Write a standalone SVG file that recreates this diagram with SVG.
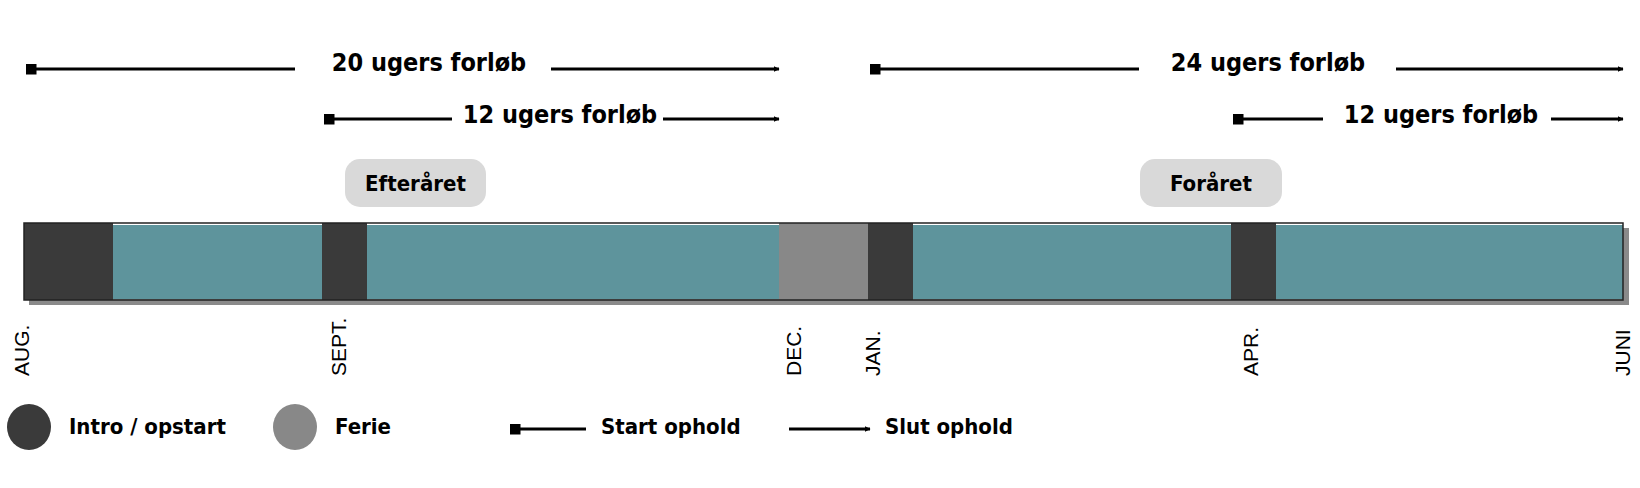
<svg xmlns="http://www.w3.org/2000/svg" width="1640" height="488" viewBox="0 0 1640 488">
<style>
.t{font-family:"Liberation Sans Narrow","DejaVu Sans Condensed","Liberation Sans",sans-serif;font-weight:bold;font-size:25px;fill:#000}
.m{font-family:"Liberation Sans",Arial,sans-serif;font-size:21px;fill:#000}
.ln{stroke:#000;stroke-width:3;fill:none}
.dk{fill:#3a3a3a}.tl{fill:#5e949c}.gr{fill:#888}
</style>
<defs>
<marker id="ah" viewBox="0 0 10 10" refX="9" refY="5" markerWidth="6" markerHeight="8" markerUnits="userSpaceOnUse" orient="auto"><path d="M0,0 L10,5 L0,10 z" fill="#000"/></marker>
<marker id="sq" viewBox="0 0 10 10" refX="5" refY="5" markerWidth="11" markerHeight="11" markerUnits="userSpaceOnUse"><rect width="10" height="10" fill="#000"/></marker>
</defs>
<g id="bar">
<rect x="29" y="228" width="1600" height="77" fill="#8a8a8a"/>
<rect class="dk" x="24" y="223" width="89" height="77"/>
<rect class="tl" x="113" y="225" width="209" height="74"/>
<rect class="dk" x="322" y="223" width="45" height="77"/>
<rect class="tl" x="367" y="225" width="412" height="74"/>
<rect class="gr" x="779" y="223" width="89" height="77"/>
<rect class="dk" x="868" y="223" width="45" height="77"/>
<rect class="tl" x="913" y="225" width="318" height="74"/>
<rect class="dk" x="1231" y="223" width="45" height="77"/>
<rect class="tl" x="1276" y="225" width="347" height="74"/>
<rect x="24" y="223" width="1599" height="77" fill="none" stroke="#222" stroke-width="1.5"/>
</g>
<g id="connectors">
<line class="ln" x1="31" y1="69" x2="295" y2="69" marker-start="url(#sq)"/>
<line class="ln" x1="551" y1="69" x2="779" y2="69" marker-end="url(#ah)"/>
<line class="ln" x1="329" y1="119" x2="452" y2="119" marker-start="url(#sq)"/>
<line class="ln" x1="663" y1="119" x2="779" y2="119" marker-end="url(#ah)"/>
<line class="ln" x1="875" y1="69" x2="1139" y2="69" marker-start="url(#sq)"/>
<line class="ln" x1="1396" y1="69" x2="1623" y2="69" marker-end="url(#ah)"/>
<line class="ln" x1="1238" y1="119" x2="1323" y2="119" marker-start="url(#sq)"/>
<line class="ln" x1="1551" y1="119" x2="1623" y2="119" marker-end="url(#ah)"/>
<line class="ln" x1="515" y1="429" x2="586" y2="429" marker-start="url(#sq)"/>
<line class="ln" x1="789" y1="429" x2="870" y2="429" marker-end="url(#ah)"/>
</g>
<g id="labels">
<text class="t" x="429" y="71" text-anchor="middle">20 ugers forløb</text>
<text class="t" x="560" y="123" text-anchor="middle">12 ugers forløb</text>
<text class="t" x="1268" y="71" text-anchor="middle">24 ugers forløb</text>
<text class="t" x="1441" y="123" text-anchor="middle">12 ugers forløb</text>
</g>
<g id="efteraaret"><rect x="345" y="159" width="141" height="48" rx="15" fill="#d9d9d9"/><text class="t" x="415.5" y="191" text-anchor="middle" style="font-size:22px">Efteråret</text></g>
<g id="foraaret"><rect x="1140" y="159" width="142" height="48" rx="15" fill="#d9d9d9"/><text class="t" x="1211" y="191" text-anchor="middle" style="font-size:22px">Foråret</text></g>
<g id="months">
<text class="m" transform="translate(29,376) rotate(-90)">AUG.</text>
<text class="m" transform="translate(346,376) rotate(-90)">SEPT.</text>
<text class="m" transform="translate(801,376) rotate(-90)">DEC.</text>
<text class="m" transform="translate(880,376) rotate(-90)">JAN.</text>
<text class="m" transform="translate(1258,376) rotate(-90)">APR.</text>
<text class="m" transform="translate(1630,376) rotate(-90)">JUNI</text>
</g>
<g id="legend">
<ellipse cx="29" cy="427" rx="22" ry="23" class="dk"/>
<text class="t" x="69" y="434" style="font-size:22px">Intro / opstart</text>
<ellipse cx="295" cy="427" rx="22" ry="23" class="gr"/>
<text class="t" x="335" y="434" style="font-size:22px">Ferie</text>
<text class="t" x="601" y="434" style="font-size:22px">Start ophold</text>
<text class="t" x="885" y="434" style="font-size:22px">Slut ophold</text>
</g>
</svg>
